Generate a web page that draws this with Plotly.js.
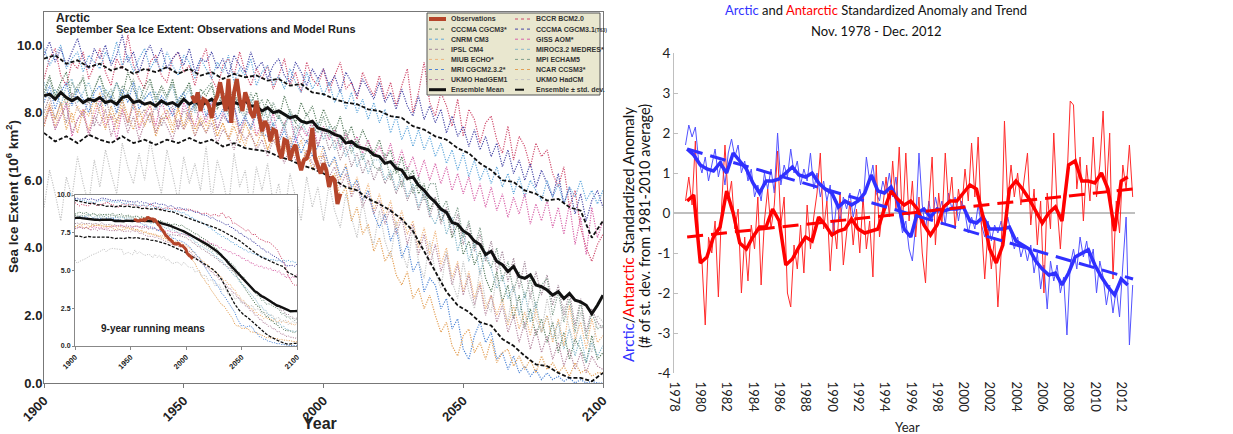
<!DOCTYPE html>
<html><head><meta charset="utf-8">
<script src="https://cdn.plot.ly/plotly-3.0.1.min.js"></script>
<style>html,body{margin:0;padding:0;background:#fff}#chart{width:1233px;height:434px}</style>
</head><body><div id="chart"></div>
<script>
// ---------------- LEFT PANEL DATA (September Arctic sea ice extent, 10^6 km^2) ----------------
const modelStartYear = 1900, modelStepYears = 2;   // model runs sampled 1900..2100
const modelNames = ['BCCR BCM2.0','CCCMA CGCM3*','CCCMA CGCM3.1(T63)','CNRM CM3','GISS AOM*','IPSL CM4',
  'MIROC3.2 MEDRES*','MIUB ECHO*','MPI ECHAM5','MRI CGCM2.3.2*','NCAR CCSM3*','UKMO HadGEM1','UKMO HadCM'];
const bccrBcm = [9.0,9.6,9.9,9.1,8.8,9.5,9.3,9.8,9.0,9.4, 9.9,9.2,8.8,9.6,9.3,10.3,9.4,9.0,8.7,9.5, 9.7,9.1,8.9,9.6,9.8,9.2,9.4,8.8,9.5,9.9,
  9.0,8.7,9.4,9.6,9.1,9.8,9.2,8.8,9.3,9.0, 9.4,8.7,9.1,9.6,8.8,9.2,8.6,9.5,9.0,8.8, 9.3,8.6,9.1,9.5,8.7,8.9,8.4,9.2,8.8,8.5,
  9.1,8.4,8.9,8.2,8.8,9.3,8.0,8.6,9.5,8.3, 7.9,8.6,8.2,7.6,8.4,7.3,8.1,7.8,7.1,7.7, 7.9,7.2,6.8,7.6,6.6,7.3,7.0,6.4,7.1,6.7,
  6.9,6.2,5.8,6.4,5.2,5.7,4.6,4.0,3.6,4.1, 4.4];
const cccmaCgcm3 = [8.6,9.1,8.5,8.9,9.2,8.4,8.8,9.0,8.3,8.7, 9.1,8.6,8.4,8.9,8.5,9.2,8.7,8.3,8.8,9.0, 8.4,8.8,8.5,9.0,8.3,8.6,8.9,8.2,8.7,8.5,
  8.8,8.1,8.6,8.4,8.7,8.0,8.5,8.3,8.6,7.9, 8.4,8.1,7.8,8.5,8.0,7.7,8.3,7.9,8.2,7.6, 8.1,7.7,7.4,7.9,7.2,7.6,7.0,7.5,7.1,6.8,
  7.2,6.6,6.9,6.2,6.7,6.0,6.3,5.6,5.9,5.1, 5.5,4.8,5.1,4.3,4.7,3.8,4.2,3.5,3.9,3.1, 2.7,3.3,2.4,2.9,1.9,2.6,1.6,2.2,1.4,1.9,
  1.2,1.8,0.9,1.5,0.7,1.3,1.0,0.6,1.4,0.7, 0.9];
const cccmaT63 = [9.7,10.1,9.5,9.9,9.4,9.8,10.2,9.6,9.3,9.9, 9.6,10.0,9.4,9.7,10.3,9.5,9.8,9.2,9.7,10.0, 9.5,9.9,9.3,9.6,9.8,9.4,9.9,9.2,9.6,9.5,
  9.8,9.3,9.6,9.1,9.7,9.4,9.2,9.8,9.3,9.5, 9.0,9.4,9.6,9.1,8.9,9.5,9.2,8.8,9.3,9.0, 9.3,8.8,9.1,8.6,9.2,8.9,8.5,9.0,8.7,8.4,
  8.9,8.3,8.6,8.1,8.7,8.2,7.9,8.5,7.8,8.2, 7.7,8.1,7.4,7.9,7.3,7.6,7.0,7.5,6.9,7.3, 6.7,7.1,6.4,6.9,6.2,6.6,6.0,6.5,5.8,6.3,
  5.9,5.5,6.2,5.3,5.8,5.0,5.6,4.8,5.4,5.7, 5.2];
const cnrmCm3 = [9.9,9.4,9.7,10.0,9.3,9.6,9.8,9.2,9.7,9.5, 9.3,9.8,9.5,10.1,9.4,9.7,9.2,9.6,9.9,9.3, 9.6,9.2,9.8,9.4,9.1,9.7,9.5,9.0,9.6,9.3,
  9.0,9.5,9.2,9.7,8.9,9.3,9.1,9.6,8.8,9.2, 9.4,8.8,9.1,8.7,9.3,8.9,8.6,9.2,8.7,9.0, 8.5,8.9,8.3,8.7,8.1,8.6,8.0,8.4,7.8,8.3,
  7.7,8.1,7.4,7.9,7.2,7.6,7.0,7.5,6.9,7.3, 6.7,7.1,6.5,6.9,6.3,6.8,6.1,6.6,6.0,6.4, 5.9,6.4,5.8,6.2,5.6,6.1,5.5,6.0,5.7,5.4,
  6.0,5.5,5.9,5.3,5.8,5.5,6.0,5.4,5.7,5.3, 5.7];
const gissAom = [7.6,8.2,7.5,7.9,8.3,7.3,7.8,8.1,7.4,7.9, 8.4,7.6,7.9,7.2,8.1,7.7,8.3,7.5,7.9,8.2, 7.6,8.4,7.8,8.1,7.5,8.3,7.9,7.6,8.2,7.7,
  8.3,7.5,8.0,7.7,8.2,7.4,7.9,8.1,7.3,7.8, 7.4,8.0,7.2,7.7,7.9,7.1,7.6,7.3,7.8,7.0, 7.6,7.2,7.5,6.9,7.4,7.0,7.3,6.8,7.2,6.7,
  7.0,6.6,7.1,6.4,6.9,6.3,6.7,6.1,6.6,6.0, 6.5,5.9,6.4,5.7,6.2,5.6,6.1,5.4,5.9,5.2, 5.8,5.1,5.6,4.9,5.5,5.0,5.6,4.7,5.3,4.8,
  5.4,4.6,5.2,4.4,5.3,4.1,4.9,3.8,5.2,4.3, 4.8];
const ipslCm4 = [8.0,8.5,7.8,8.3,7.7,8.6,8.1,7.9,8.4,7.6, 8.2,8.5,7.8,8.0,8.4,7.6,8.3,7.9,8.1,7.7, 8.3,7.6,8.0,8.2,7.5,8.1,7.8,8.3,7.6,7.9,
  8.1,7.5,7.9,7.7,8.2,7.4,7.8,7.6,8.0,7.3, 7.8,7.4,7.2,7.7,7.0,7.6,7.3,7.1,7.5,7.0, 7.5,6.9,7.2,6.6,7.0,6.4,6.8,6.2,6.6,6.0,
  6.4,5.9,6.2,5.6,6.0,5.4,5.8,5.1,5.6,4.9, 5.5,4.7,5.2,4.4,5.0,4.1,4.7,3.9,4.4,3.6, 4.2,3.3,3.9,3.0,3.7,2.8,3.6,2.5,3.3,2.6,
  3.2,2.3,2.9,2.0,2.7,1.7,2.5,1.5,2.2,1.8, 1.6];
const mirocMedres = [8.9,8.4,8.7,8.2,8.8,9.0,8.3,8.6,8.9,8.4, 8.2,8.7,8.5,8.9,8.3,8.6,8.1,8.8,8.4,8.6, 8.6,8.2,8.5,8.8,8.1,8.4,8.7,8.0,8.5,8.3,
  8.0,8.6,8.3,7.9,8.5,8.1,7.8,8.4,8.0,7.7, 8.2,7.6,7.9,7.5,8.0,7.3,7.8,7.4,7.2,7.7, 7.2,7.6,6.9,7.3,6.7,7.1,6.4,6.8,6.2,6.6,
  6.6,6.0,6.3,5.7,6.2,5.5,5.9,5.2,5.7,5.0, 4.7,5.2,4.4,4.9,3.9,4.5,3.6,4.2,3.2,3.9, 3.4,2.8,3.2,2.5,2.9,2.0,2.7,1.8,2.4,1.5,
  2.0,1.3,1.8,1.0,1.6,0.8,1.4,0.6,1.2,0.8, 1.1];
const miubEcho = [7.8,8.3,7.6,8.1,8.5,7.7,8.2,7.9,7.5,8.1, 8.6,7.8,8.0,7.5,8.2,7.7,8.4,7.6,8.0,8.3, 7.4,7.9,8.1,7.6,8.2,7.5,7.8,7.3,7.9,7.6,
  7.9,7.3,7.7,7.2,7.8,7.4,7.0,7.6,7.3,7.5, 6.9,7.4,7.1,6.8,7.3,6.7,7.2,6.6,7.0,6.5, 7.0,6.4,6.6,6.0,6.5,5.6,6.1,5.4,5.9,5.1,
  5.6,4.9,5.4,4.6,5.1,4.4,4.8,4.0,4.6,3.8, 4.5,3.5,4.0,3.1,3.6,2.7,3.3,2.5,3.0,2.2, 2.6,2.0,2.5,1.7,2.3,1.6,2.1,1.4,2.2,1.5,
  2.0,1.2,1.9,1.1,2.3,1.3,1.8,1.0,1.9,1.2, 1.4];
const mpiEcham5 = [8.5,9.0,8.4,8.8,8.2,8.9,8.6,9.1,8.3,8.7, 9.1,8.4,8.7,8.2,8.8,8.6,9.0,8.3,8.5,8.9, 8.3,8.7,8.4,8.9,8.2,8.6,8.8,8.1,8.5,8.7,
  8.9,8.2,8.6,8.0,8.5,8.3,7.9,8.6,8.1,8.4, 7.8,8.3,7.9,7.6,8.1,7.7,7.5,8.0,7.6,7.4, 7.9,7.3,7.6,7.0,7.5,6.8,7.2,6.6,7.0,6.4,
  6.3,6.8,6.0,6.5,5.8,6.4,5.6,6.1,5.4,5.9, 5.9,5.1,5.4,4.7,5.2,4.3,4.8,4.0,4.6,3.7, 3.4,4.0,3.0,3.6,2.7,3.3,2.5,3.1,2.2,2.9,
  3.1,2.0,2.7,1.8,2.5,1.5,2.4,1.3,2.1,1.6, 1.7];
const mriCgcm = [8.3,8.8,8.1,8.6,8.9,8.2,8.7,8.4,8.0,8.6, 8.8,8.2,8.5,8.0,8.7,8.3,8.9,8.1,8.4,8.6, 8.1,8.5,8.3,7.9,8.4,8.6,8.0,8.3,8.5,7.9,
  8.4,7.8,8.1,7.7,8.2,7.6,7.9,7.5,8.0,7.4, 7.3,7.7,7.1,7.5,6.9,7.3,6.8,7.2,6.7,7.0, 7.0,6.4,6.7,6.1,6.4,5.8,6.0,5.4,5.7,5.0,
  4.6,5.0,4.2,4.6,3.7,4.1,3.3,3.6,2.7,3.1, 2.9,2.2,2.5,1.6,1.9,1.0,0.7,1.4,1.8,1.2, 1.5,0.7,0.9,0.4,0.8,0.3,0.5,0.2,0.4,0.1,
  0.3,0.1,0.2,0.05,0.15,0.0,0.1,0.0,0.05,0.0, 0.0];
const ncarCcsm3 = [7.6,8.2,7.8,8.3,7.5,8.0,7.4,8.1,7.9,8.4, 8.0,7.5,8.2,7.7,8.4,7.9,7.5,8.1,7.6,8.0, 7.3,7.8,7.9,7.4,8.1,7.6,8.2,7.5,7.8,7.4,
  7.9,7.3,7.7,7.2,7.6,7.1,7.7,7.3,7.0,7.5, 6.9,7.3,6.8,7.1,6.6,7.0,6.5,6.9,6.3,6.7, 6.7,6.0,6.2,5.5,5.8,4.8,5.2,4.4,4.7,3.9,
  4.3,3.6,3.9,3.2,2.9,3.3,2.5,2.8,2.2,2.6, 2.0,1.5,1.8,1.1,0.8,1.4,1.6,0.9,1.2,0.7, 1.3,0.6,0.9,1.0,0.5,0.8,0.4,0.7,0.3,0.8,
  0.4,0.6,0.3,0.5,0.2,0.6,0.3,0.4,0.2,0.3, 0.3];
const ukmoHadgem1 = [7.7,8.1,7.5,7.9,8.2,7.4,7.8,8.0,7.3,7.9, 7.6,8.1,7.3,7.8,8.0,7.4,7.9,7.2,7.7,8.0, 7.4,7.9,7.6,7.2,7.8,7.5,8.0,7.3,7.7,7.4,
  7.7,7.1,7.5,7.3,6.9,7.5,7.2,7.4,6.9,7.2, 6.7,7.2,6.9,6.5,7.0,6.6,6.4,6.9,6.5,6.3, 6.8,6.1,6.4,5.8,6.2,5.5,5.9,5.2,5.6,5.0,
  5.4,4.7,5.2,4.4,4.9,4.1,4.7,3.8,4.4,3.5, 4.1,3.3,3.8,2.9,3.5,2.6,3.2,2.3,2.9,2.0, 2.6,1.8,2.3,1.5,2.0,1.2,1.8,1.0,1.6,0.9,
  1.4,0.7,1.2,0.5,1.0,0.4,0.9,0.3,0.8,0.5, 0.4];
const ukmoHadcm = [5.2,6.3,5.6,4.8,6.1,5.5,6.7,5.9,5.3,6.6, 5.8,6.9,6.2,5.6,7.1,6.4,5.9,6.8,6.0,7.2, 6.3,5.6,6.9,6.1,5.4,6.7,5.9,6.5,5.7,7.0,
  5.4,6.6,6.0,5.2,6.8,5.8,6.3,5.1,6.4,5.7, 6.5,5.3,5.9,4.9,6.2,5.5,4.8,6.1,5.2,5.8, 4.8,5.9,5.1,4.6,5.6,4.9,4.3,5.4,4.5,4.1,
  5.1,4.2,3.7,4.8,3.9,3.4,4.6,3.6,3.1,4.2, 3.3,2.8,3.9,3.0,2.5,3.6,2.7,2.2,3.4,2.4, 2.1,3.2,2.3,1.8,2.9,2.0,1.6,2.7,1.9,1.5,
  2.5,1.7,1.3,2.3,1.6,1.1,2.1,1.4,0.9,2.0, 1.8];
const modelSeries = [bccrBcm,cccmaCgcm3,cccmaT63,cnrmCm3,gissAom,ipslCm4,mirocMedres,miubEcho,mpiEcham5,mriCgcm,ncarCcsm3,ukmoHadgem1,ukmoHadcm];

const ensembleStartYear = 1900, ensembleStepYears = 2;
const ensembleMean = [8.5,8.55,8.4,8.6,8.45,8.35,8.45,8.3,8.4,8.35,8.45,8.3,8.35,8.25,8.45,8.5,8.3,8.35,8.25,8.3,8.2,8.35,8.25,8.3,8.2,8.4,8.25,8.35,8.2,8.3,8.4,8.25,8.3,8.15,8.3,8.25,8.35,8.2,8.2,8.05,8.15,8.0,8.05,7.95,7.85,7.9,7.75,7.7,7.75,7.55,7.5,7.45,7.35,7.3,7.1,7.15,7.0,6.95,6.9,6.75,6.7,6.5,6.55,6.35,6.3,6.05,6.1,5.85,5.7,5.5,5.35,5.15,5.05,4.75,4.7,4.5,4.4,4.2,4.1,3.8,3.9,3.6,3.5,3.3,3.45,3.15,3.1,3.2,2.9,2.85,2.75,2.6,2.7,2.5,2.65,2.45,2.4,2.3,2.05,2.3,2.6];
const sdStepYears = 4;
const ensemblePlusSd = [9.6,9.7,9.45,9.55,9.35,9.45,9.25,9.35,9.15,9.3,9.2,9.35,9.15,9.3,9.1,9.2,9.0,9.15,9.05,9.1,8.95,9.0,8.8,8.85,8.6,8.55,8.4,8.3,8.25,8.1,8.05,7.9,7.85,7.6,7.5,7.3,7.2,6.95,6.8,6.5,6.3,6.0,5.95,5.7,5.6,5.4,5.45,5.2,5.1,4.3,4.8];
const ensembleMinusSd = [7.4,7.15,7.3,7.1,7.35,7.2,7.1,7.3,7.1,7.2,7.05,7.2,7.1,7.25,7.1,7.2,7.0,7.1,6.95,6.9,6.85,6.7,6.6,6.45,6.35,6.2,6.0,5.8,5.7,5.45,5.3,5.1,4.85,4.5,3.9,3.3,2.7,2.3,2.1,1.8,1.7,1.3,1.1,0.8,0.55,0.5,0.3,0.15,0.15,0.05,0.3];

const obsStartYear = 1953;
const observations = [8.5,8.3,8.6,8.05,8.4,8.35,8.2,7.85,8.3,8.5,8.9,8.4,8.05,9.0,7.7,8.6,9.0,8.4,8.05,8.6,8.35,8.0,7.85,8.35,7.9,7.45,7.75,7.6,7.15,7.5,7.45,6.9,6.65,7.2,7.15,6.6,6.9,7.05,6.6,6.3,6.6,6.65,6.9,7.55,6.65,6.4,6.2,6.5,6.3,5.8,6.1,6.0,5.3,5.6];

const mainYTicks = [0,2,4,6,8,10];
const mainXTicks = [1900,1950,2000,2050,2100];
const insetYTicks = [0,2.5,5,7.5,10];

// ---------------- RIGHT PANEL DATA (standardized anomaly) ----------------
const anomalyStart = 1978.875, anomalyStep = 0.25;
const arcticAnomaly = [1.7,
 2.2,1.9,2.15,1.3, 1.0,1.4,0.8,1.2, 1.6,0.9,1.3,0.7, 1.5,1.85,1.4,1.7, 1.0,1.3,0.8,1.1,
 0.4,0.7,0.3,1.0, 0.6,1.1,0.5,2.0, 0.7,1.2,0.9,1.6, 1.0,1.3,0.7,1.1, 0.8,1.5,0.6,1.0,
 0.4,0.8,0.3,0.7, -0.5,0.3,-0.2,0.4, 0.1,0.5,-0.1,0.3, 0.6,0.2,1.4,0.8, 1.2,0.5,0.3,0.8,
 0.5,1.0,0.4,0.9, 0.0,-0.5,-0.2,-0.9, -1.2,-0.3,1.5,0.2, -0.4,0.3,-0.2,0.4, 0.0,0.3,-0.3,0.5,
 0.1,0.4,-0.2,0.3, 0.0,-0.5,-0.1,-0.4, 0.2,-0.3,-0.6,-0.2, -0.7,-0.3,-0.5,-0.2, -0.6,-0.1,-0.5,-0.9,
 -0.6,-1.1,-0.8,-1.2, -0.8,-1.5,-1.0,-1.9, -1.3,-2.4,-1.2,-1.7, -1.3,-2.0,-1.6,-3.05, -1.3,-0.9,-1.4,-0.6,
 -1.1,-0.7,-1.3,-0.9, -2.0,-1.2,-1.6,-2.3, -1.8,-2.5,-1.9,-2.6, -1.3,-0.1,-3.3,-1.8];
const antarcticAnomaly = [0.3,
 0.9,0.2,1.8,-0.8, -1.2,-2.8,-0.6,-1.0, -0.2,-2.1,0.2,1.7, 0.3,0.8,-0.4,0.1, -2.0,-0.6,-1.7,-0.3,
 -0.9,0.4,-1.8,-0.2, 0.6,-0.4,0.2,1.55, -0.3,0.4,-2.0,-2.35, -0.8,-1.4,-0.3,-1.5, 0.2,-0.9,-0.1,0.5,
 1.5,-0.4,0.3,-1.45, -0.2,-0.9,0.5,-1.3, -0.4,0.3,-0.8,0.1, -1.0,0.4,-0.9,-0.2, -1.6,1.2,-0.6,0.2,
 0.9,-0.1,1.3,0.1, 1.65,-0.3,1.5,-0.2, 0.8,-0.6,0.4,-1.0, -1.75,0.2,1.4,-0.8, 0.5,-0.3,1.5,0.2,
 0.9,-0.4,0.6,0.1, 1.1,0.3,1.75,0.4, 1.9,-0.3,-1.65,-0.4, -1.4,-0.6,-2.35,-1.0, 2.3,0.3,1.2,0.4,
 1.0,0.2,0.9,1.5, -0.3,0.6,-0.8,0.3, -2.0,0.5,-0.4,2.0, 0.2,-0.9,0.4,0.8, 2.8,2.7,0.6,1.4,
 -0.2,1.2,0.3,1.9, 0.4,1.2,2.55,0.5, 2.0,-1.65,0.3,-0.5, 1.2,0.6,1.7,0.4];
const runningStart = 1979.0, runningStep = 0.5;
const arcticRunning = [1.6,1.45,1.2,1.1,1.05,1.25,1.0,1.5,1.3,1.1,0.75,0.5,0.8,0.8,0.85,1.0,1.15,0.95,0.9,1.0,0.75,0.6,0.5,0.15,0.3,0.2,0.3,0.5,0.95,0.55,0.5,0.65,0.3,-0.4,-0.6,0.0,0.1,-0.1,0.1,0.05,0.1,0.1,0.15,-0.2,-0.25,-0.1,-0.4,-0.4,-0.4,-0.35,-0.7,-0.8,-0.9,-1.2,-1.4,-1.55,-1.5,-1.8,-1.5,-1.1,-1.0,-0.92,-1.3,-1.6,-1.85,-2.05,-1.65,-1.8];
const antarcticRunning = [0.3,0.45,-1.25,-1.1,-0.6,-0.35,0.55,0.0,-0.75,-0.9,-0.6,-0.35,-0.35,0.1,-0.2,-1.3,-1.15,-0.85,-0.6,-0.7,-0.1,-0.3,-0.55,-0.45,-0.4,-0.15,-0.4,-0.5,-0.45,-0.4,0.1,0.55,0.35,0.2,0.3,0.1,-0.3,-0.55,-0.3,0.15,0.3,0.3,0.5,0.7,0.6,-0.1,-0.9,-1.25,-0.8,0.6,0.8,0.6,0.35,0.05,-0.25,0.0,0.15,-0.2,1.2,1.3,0.8,0.8,0.75,1.0,0.6,-0.45,0.8,0.9];
const trendYears = [1979.0, 2012.9];
const arcticTrend = [1.6, -1.65];
const antarcticTrend = [-0.6, 0.6];
const rightXTicks = [1978,1980,1982,1984,1986,1988,1990,1992,1994,1996,1998,2000,2002,2004,2006,2008,2010,2012];
const rightYTicks = [-4,-3,-2,-1,0,1,2,3,4];

// ---------------- styles ----------------
const modelColors = ['#cf4b6c','#557a5c','#4646a6','#62a8dc','#d862a8','#a3899a','#86b8cc','#f0b47a','#7f9d8c','#4f86d6','#e3a056','#b4839c','#c4c4c4'];
const obsColor = '#b5452a';
const W = 1233, H = 434;
const PX = v => v / W, PY = v => 1 - v / H;
const seq = (s, st, n) => Array.from({length: n}, (_, i) => +(s + i * st).toFixed(4));
const runMean = (a, h) => a.map((_, i) => { let s = 0, c = 0; for (let j = i - h; j <= i + h; j++) if (j >= 0 && j < a.length) { s += a[j]; c++; } return s / c; });
const boldArial = (size, color) => ({family: 'Liberation Sans, Arial, sans-serif', size: size, weight: 'bold', color: color || '#222'});
const lato = (size, color) => ({family: 'Lato, Open Sans, sans-serif', size: size, color: color || '#222'});

const traces = [];
// main panel
modelSeries.forEach((ys, i) => traces.push({x: seq(modelStartYear, modelStepYears, ys.length), y: ys, xaxis: 'x', yaxis: 'y', mode: 'lines', line: {color: modelColors[i], width: 1.2, dash: '1.2px,1.3px'}}));
[ensemblePlusSd, ensembleMinusSd].forEach(ys => traces.push({x: seq(modelStartYear, sdStepYears, ys.length), y: ys, xaxis: 'x', yaxis: 'y', mode: 'lines', line: {color: '#111', width: 1.8, dash: '4px,2px'}}));
traces.push({x: seq(ensembleStartYear, ensembleStepYears, ensembleMean.length), y: ensembleMean, xaxis: 'x', yaxis: 'y', mode: 'lines', line: {color: '#111', width: 3}});
traces.push({x: seq(obsStartYear, 1, observations.length), y: observations, xaxis: 'x', yaxis: 'y', mode: 'lines', line: {color: obsColor, width: 4}});
// inset: 9-year running means
modelSeries.forEach((ys, i) => traces.push({x: seq(modelStartYear, modelStepYears, ys.length), y: runMean(ys, 2), xaxis: 'x2', yaxis: 'y2', mode: 'lines', line: {color: modelColors[i], width: 1, dash: '1.2px,1.3px'}}));
[ensemblePlusSd, ensembleMinusSd].forEach(ys => traces.push({x: seq(modelStartYear, sdStepYears, ys.length), y: runMean(ys, 1), xaxis: 'x2', yaxis: 'y2', mode: 'lines', line: {color: '#111', width: 1.3, dash: '3px,1.5px'}}));
traces.push({x: seq(ensembleStartYear, ensembleStepYears, ensembleMean.length), y: runMean(ensembleMean, 2), xaxis: 'x2', yaxis: 'y2', mode: 'lines', line: {color: '#111', width: 2.4}});
traces.push({x: seq(obsStartYear, 1, observations.length), y: runMean(observations, 4), xaxis: 'x2', yaxis: 'y2', mode: 'lines', line: {color: obsColor, width: 3}});
// right panel
traces.push({x: seq(anomalyStart, anomalyStep, arcticAnomaly.length), y: arcticAnomaly, xaxis: 'x3', yaxis: 'y3', mode: 'lines', line: {color: '#5252ff', width: 1}});
traces.push({x: seq(anomalyStart, anomalyStep, antarcticAnomaly.length), y: antarcticAnomaly, xaxis: 'x3', yaxis: 'y3', mode: 'lines', line: {color: '#ff2a2a', width: 1}});
traces.push({x: seq(runningStart, runningStep, arcticRunning.length), y: arcticRunning, xaxis: 'x3', yaxis: 'y3', mode: 'lines', line: {color: '#3030ff', width: 3.5}});
traces.push({x: seq(runningStart, runningStep, antarcticRunning.length), y: antarcticRunning, xaxis: 'x3', yaxis: 'y3', mode: 'lines', line: {color: '#ff0000', width: 3.5}});
traces.push({x: trendYears, y: arcticTrend, xaxis: 'x3', yaxis: 'y3', mode: 'lines', line: {color: '#3030ff', width: 3, dash: '16px,8px'}});
traces.push({x: trendYears, y: antarcticTrend, xaxis: 'x3', yaxis: 'y3', mode: 'lines', line: {color: '#ff0000', width: 3, dash: '16px,8px'}});

// ---------------- legend (drawn as shapes/annotations) ----------------
const legendItems = [{name: 'Observations', color: obsColor, width: 4, dash: 'solid'}];
modelNames.forEach((n, i) => legendItems.push({name: n.replace('(T63)', '<span style="font-size:5px">(T63)</span>'), color: modelColors[i], width: 1, dash: 'dot'}));
legendItems.push({name: 'Ensemble Mean', color: '#111', width: 3, dash: 'solid'});
legendItems.push({name: 'Ensemble ± std. dev.', color: '#111', width: 2, dash: 'dash'});

const shapes = [{type: 'rect', xref: 'paper', yref: 'paper', x0: PX(427), x1: PX(600), y0: PY(95), y1: PY(13), fillcolor: '#e9e7cf', line: {color: '#555', width: 1}, layer: 'above'}];
const annotations = [];
legendItems.forEach((it, k) => {
  const col = k % 2, row = Math.floor(k / 2);
  const yy = 19 + row * 10.1;
  const x0 = col ? 515 : 429, x1 = col ? 531 : 446, xt = col ? 534 : 449;
  shapes.push({type: 'line', xref: 'paper', yref: 'paper', x0: PX(x0), x1: PX(x1), y0: PY(yy), y1: PY(yy), line: {color: it.color, width: it.width, dash: it.dash}, layer: 'above'});
  annotations.push({xref: 'paper', yref: 'paper', x: PX(xt), y: PY(yy), xanchor: 'left', yanchor: 'middle', showarrow: false, text: it.name, font: boldArial(7, '#333')});
});

annotations.push(
  {xref: 'paper', yref: 'paper', x: PX(54), y: PY(18), xanchor: 'left', yanchor: 'middle', showarrow: false, text: 'Arctic', font: boldArial(12, '#222')},
  {xref: 'paper', yref: 'paper', x: PX(54), y: PY(29.5), xanchor: 'left', yanchor: 'middle', showarrow: false, text: 'September Sea Ice Extent: Observations and Model Runs', font: boldArial(11, '#222')},
  {xref: 'paper', yref: 'paper', x: PX(320), y: PY(423), xanchor: 'center', yanchor: 'middle', showarrow: false, text: 'Year', font: boldArial(16, '#222')},
  {xref: 'paper', yref: 'paper', x: PX(12), y: PY(197), xanchor: 'center', yanchor: 'middle', showarrow: false, textangle: -90, text: 'Sea Ice Extent (10<sup>6</sup> km<sup>2</sup>)', font: boldArial(13.5, '#222')},
  {xref: 'x2', yref: 'y2', x: 1922, y: 1.15, xanchor: 'left', yanchor: 'middle', showarrow: false, text: '9-year running means', font: boldArial(10, '#222')},
  {xref: 'paper', yref: 'paper', x: PX(876), y: PY(10), xanchor: 'center', yanchor: 'middle', showarrow: false, text: '<span style="color:#3333ff">Arctic</span> and <span style="color:#ff0000">Antarctic</span> Standardized Anomaly and Trend', font: lato(13, '#111')},
  {xref: 'paper', yref: 'paper', x: PX(876), y: PY(31), xanchor: 'center', yanchor: 'middle', showarrow: false, text: 'Nov. 1978 - Dec. 2012', font: lato(13, '#111')},
  {xref: 'paper', yref: 'paper', x: PX(907), y: PY(427), xanchor: 'center', yanchor: 'middle', showarrow: false, text: 'Year', font: lato(13, '#222')},
  {xref: 'paper', yref: 'paper', x: PX(628), y: PY(235), xanchor: 'center', yanchor: 'middle', showarrow: false, textangle: -90, text: '<span style="color:#3333ff">Arctic</span>/<span style="color:#ff0000">Antarctic</span> Standardized Anomaly', font: lato(15, '#111')},
  {xref: 'paper', yref: 'paper', x: PX(645), y: PY(226), xanchor: 'center', yanchor: 'middle', showarrow: false, textangle: -90, text: '(# of st. dev. from 1981-2010 average)', font: lato(14.5, '#111')}
);

const axBase = {showgrid: false, zeroline: false, fixedrange: true};
const layout = {
  width: W, height: H, margin: {l: 0, r: 0, t: 0, b: 0}, showlegend: false,
  paper_bgcolor: '#fff', plot_bgcolor: '#fff',
  xaxis: Object.assign({}, axBase, {domain: [PX(44), PX(603)], range: [1900, 2100], anchor: 'y', showline: true, mirror: true, linecolor: '#777', linewidth: 1,
    ticks: 'outside', ticklen: 4, tickcolor: '#777', tickvals: mainXTicks, tickangle: -45, tickfont: boldArial(13)}),
  yaxis: Object.assign({}, axBase, {domain: [PY(383), PY(12)], range: [0, 10.98], anchor: 'x', showline: true, mirror: true, linecolor: '#777', linewidth: 1,
    ticks: '', ticklabelstandoff: -2, tickvals: mainYTicks, tickformat: '.1f', tickfont: boldArial(13)}),
  xaxis2: Object.assign({}, axBase, {domain: [PX(75), PX(297)], range: [1900, 2100], anchor: 'y2', showline: true, mirror: true, linecolor: '#888', linewidth: 1,
    ticks: 'outside', ticklen: 3, tickcolor: '#888', tickvals: mainXTicks, tickangle: -45, tickfont: boldArial(7.5)}),
  yaxis2: Object.assign({}, axBase, {domain: [PY(346), PY(195)], range: [0, 10], anchor: 'x2', showline: true, mirror: true, linecolor: '#888', linewidth: 1,
    ticks: 'outside', ticklen: 2, tickcolor: '#888', tickvals: insetYTicks, tickformat: '.1f', tickfont: boldArial(7)}),
  xaxis3: Object.assign({}, axBase, {domain: [PX(674), PX(1135)], range: [1978, 2013.05], anchor: 'y3', showline: false,
    ticks: 'outside', ticklen: 5, tickcolor: 'rgba(0,0,0,0)', tickvals: rightXTicks, tickangle: 90, tickfont: lato(13)}),
  yaxis3: Object.assign({}, axBase, {domain: [PY(373), PY(53)], range: [-4, 4], anchor: 'x3', showline: true, linecolor: '#bfbfbf', linewidth: 1,
    ticks: 'inside', ticklen: 4, tickcolor: '#bfbfbf', tickvals: rightYTicks, ticktext: rightYTicks.map(String), tickfont: lato(13.5),
    zeroline: true, zerolinecolor: '#bfbfbf', zerolinewidth: 1.5}),
  shapes: shapes, annotations: annotations
};
Plotly.newPlot('chart', traces, layout, {staticPlot: true, displayModeBar: false});
</script></body></html>
